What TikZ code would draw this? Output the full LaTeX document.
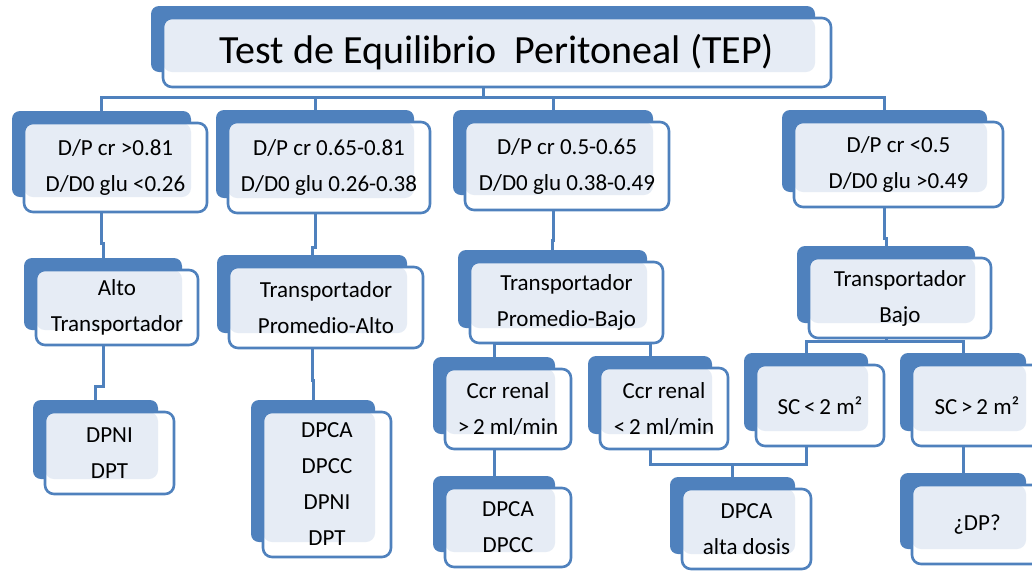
\documentclass[tikz,border=0pt]{standalone}
\usepackage{fontspec}
\setmainfont{Carlito}
\usetikzlibrary{fit,calc,backgrounds}
\definecolor{sblue}{HTML}{4F81BD}
\definecolor{spat}{HTML}{E6ECF5}
\tikzset{
  backbox/.style={fill=sblue, draw=none, rounded corners=8pt, inner sep=0pt},
  frontbox/.style={fill=white, draw=sblue, line width=2.6pt, rounded corners=9pt, inner sep=0pt},
  conn/.style={draw=sblue, line width=3pt},
  txt/.style={font=\fontsize{23}{36}\selectfont, align=center, inner sep=0pt, text=black},
}
\newcommand\smnode[6]{%
  \node[backbox, fit={({#2-12},{#3-12}) ({#4-16},{#5-15})}] (b#1) {};
  \node[frontbox, fit={(#2,#3) (#4,#5)},
        path picture={\fill[spat] (path picture bounding box.north west) rectangle ([shift={(-16pt,15pt)}]path picture bounding box.south east);}] (#1) {};
  \node[txt] (t#1) at (#1.center) {#6};
}
\newcommand\link[3]{\draw[conn] (b#1.center) -- (b#1.center |- #3) -| (b#2.north);}
\begin{document}
\begin{tikzpicture}[x=1pt,y=-1pt]
\useasboundingbox (0,0) rectangle (1032,571);

\smnode{title}{163}{18}{831}{87}{\fontsize{40}{48}\selectfont Test de Equilibrio\ \ Peritoneal (TEP)}
\smnode{A}{24}{123}{207}{212}{D/P cr >0.81\\D/D0 glu <0.26}
\smnode{B}{228}{122}{430}{213}{D/P cr 0.65-0.81\\D/D0 glu 0.26-0.38}
\smnode{C}{465}{122}{669}{210}{D/P cr 0.5-0.65\\D/D0 glu 0.38-0.49}
\smnode{D}{794}{122}{1003}{207}{D/P cr <0.5\\D/D0 glu >0.49}
\smnode{Alto}{36}{270}{198}{345}{Alto\\Transportador}
\smnode{PA}{229}{267}{423}{348}{Transportador\\Promedio-Alto}
\smnode{PB}{470}{262}{663}{343}{Transportador\\Promedio-Bajo}
\smnode{TB}{809}{258}{991}{338}{Transportador\\Bajo}
\smnode{CcrA}{445}{369}{571}{449}{Ccr renal\\>\,2 ml/min}
\smnode{CcrB}{600}{368}{728}{449}{Ccr renal\\<\,2 ml/min}
\smnode{SCa}{756}{365}{884}{446}{SC\,<\,2 m²}
\smnode{SCb}{912}{365}{1042}{446}{SC\,>\,2 m²}
\smnode{DPNI}{45}{412}{174}{494}{DPNI\\DPT}
\smnode{List}{263}{412}{391}{557}{DPCA\\DPCC\\DPNI\\DPT}
\smnode{DPCC}{445}{488}{571}{567}{DPCA\\DPCC}
\smnode{Alta}{682}{489}{811}{569}{DPCA\\alta dosis}
\smnode{DP}{912}{485}{1042}{564}{¿DP?}

\coordinate (bus1) at (0,97);
\coordinate (jA) at (0,243);
\coordinate (jB) at (0,247);
\coordinate (jC) at (0,240);
\coordinate (jD) at (0,238);
\coordinate (jAlto) at (0,386);
\coordinate (jPA) at (0,380);
\coordinate (busPB) at (0,343);
\coordinate (busTB) at (0,341);
\coordinate (jCcr) at (0,462);
\coordinate (busAlta) at (0,464);
\coordinate (jSC) at (0,460);

\begin{scope}[on background layer]
  \link{title}{A}{bus1}
  \link{title}{B}{bus1}
  \link{title}{C}{bus1}
  \link{title}{D}{bus1}
  \link{A}{Alto}{jA}
  \link{B}{PA}{jB}
  \link{C}{PB}{jC}
  \link{D}{TB}{jD}
  \link{Alto}{DPNI}{jAlto}
  \link{PA}{List}{jPA}
  \link{PB}{CcrA}{busPB}
  \link{PB}{CcrB}{busPB}
  \link{TB}{SCa}{busTB}
  \link{TB}{SCb}{busTB}
  \link{CcrA}{DPCC}{jCcr}
  \link{SCb}{DP}{jSC}
  \draw[conn] (bCcrB.center) -- (bCcrB.center |- busAlta) -| (bSCa.center);
  \draw[conn] (bAlta.north) -- (bAlta.north |- busAlta);
\end{scope}
\end{tikzpicture}
\end{document}
